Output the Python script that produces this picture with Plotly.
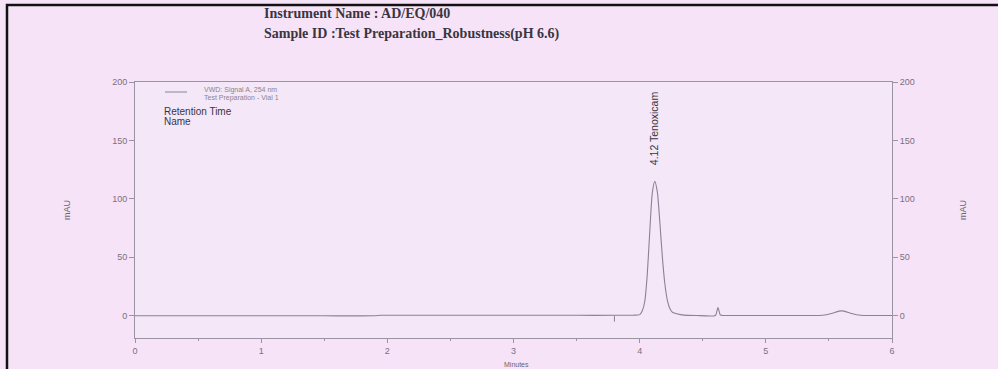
import plotly.graph_objects as go

# ---- data ----
time_min = [0.0, 0.5, 1.0, 1.5, 1.9, 1.95, 2.5, 3.0, 3.5, 3.8, 3.95, 4.00, 4.02, 4.04, 4.06, 4.08,
            4.10, 4.12, 4.14, 4.16, 4.18, 4.20, 4.22, 4.24, 4.26, 4.30, 4.35, 4.45, 4.60,
            4.62, 4.64, 4.66, 4.80, 5.00, 5.30, 5.45, 5.52, 5.58, 5.62, 5.68, 5.75, 5.85, 6.0]
signal_mau = [0.0, 0.0, 0.0, 0.0, 0.0, 0.4, 0.4, 0.4, 0.4, 0.4, 0.5, 1.0, 4, 12, 35, 72,
              105, 115, 106, 80, 50, 27, 13, 6, 3, 1.5, 0.6, 0.3, 0.3,
              7, 0.6, 0.3, 0.3, 0.3, 0.3, 0.5, 2.0, 4.0, 4.0, 2.0, 0.5, 0.3, 0.3]
marker_x = [3.8, 3.8]
marker_y = [0.0, -5.0]

peak_time = 4.12
peak_height = 115
peak_label = "4.12 Tenoxicam"

x_ticks = [0, 1, 2, 3, 4, 5, 6]
y_ticks = [0, 50, 100, 150, 200]

title_lines = ["Instrument Name : AD/EQ/040", "Sample ID :Test Preparation_Robustness(pH 6.6)"]

LINE = "#8b8198"
AXIS = "#9a93a3"
TICKF = dict(family="Liberation Sans", size=9, color="#77717e")

fig = go.Figure()
fig.add_trace(go.Scatter(x=time_min, y=signal_mau, mode="lines",
                         line=dict(color=LINE, width=1.1, shape="spline", smoothing=0.6),
                         showlegend=False, hoverinfo="skip"))
fig.add_trace(go.Scatter(x=marker_x, y=marker_y, mode="lines",
                         line=dict(color=LINE, width=1), showlegend=False, hoverinfo="skip"))
# right-hand axis companion trace (invisible)
fig.add_trace(go.Scatter(x=time_min, y=signal_mau, mode="lines", yaxis="y2",
                         line=dict(color="rgba(0,0,0,0)", width=0), showlegend=False, hoverinfo="skip"))

fig.update_layout(
    width=998, height=369,
    margin=dict(l=135, r=106, t=82, b=31),
    paper_bgcolor="#f7e3f8",
    plot_bgcolor="#f4e7f8",
    xaxis=dict(range=[0, 6], tickvals=x_ticks, showgrid=False, zeroline=False,
               showline=True, linecolor=AXIS, linewidth=1, mirror=True,
               ticks="outside", ticklen=4, tickcolor=AXIS, tickfont=TICKF,
               minor=dict(dtick=0.5, ticks="outside", ticklen=2, tickcolor=AXIS)),
    yaxis=dict(range=[-19, 200], tickvals=y_ticks, showgrid=False, zeroline=False,
               showline=True, linecolor=AXIS, linewidth=1,
               ticks="outside", ticklen=5, tickcolor=AXIS, tickfont=TICKF,
               title=dict(text="mAU", font=dict(family="Liberation Sans", size=9, color="#6a6470"),
                          standoff=40)),
    yaxis2=dict(range=[-19, 200], tickvals=y_ticks, overlaying="y", side="right",
                showgrid=False, zeroline=False, showline=True, linecolor=AXIS, linewidth=1,
                ticks="outside", ticklen=5, tickcolor=AXIS, tickfont=TICKF,
                title=dict(text="mAU", font=dict(family="Liberation Sans", size=9, color="#6a6470"),
                           standoff=45)),
)

# titles
fig.add_annotation(xref="paper", yref="paper", x=(262 - 135) / 757, y=1 + (82 - 13) / 256,
                   xanchor="left", yanchor="middle", showarrow=False, align="left",
                   text="<b>" + title_lines[0] + "</b>",
                   font=dict(family="Liberation Serif", size=14, color="#3a3540"))
fig.add_annotation(xref="paper", yref="paper", x=(262 - 135) / 757, y=1 + (82 - 34) / 256,
                   xanchor="left", yanchor="middle", showarrow=False, align="left",
                   text="<b>" + title_lines[1] + "</b>",
                   font=dict(family="Liberation Serif", size=14, color="#3a3540"))

# legend-like block
fig.add_shape(type="line", xref="paper", yref="paper",
              x0=(165 - 135) / 757, x1=(187 - 135) / 757, y0=1 - (92 - 82) / 256, y1=1 - (92 - 82) / 256,
              line=dict(color=LINE, width=1))
fig.add_annotation(xref="paper", yref="paper", x=(202 - 135) / 757, y=1 - (90 - 82) / 256,
                   xanchor="left", yanchor="middle", showarrow=False,
                   text="VWD: Signal A, 254 nm", font=dict(family="Liberation Sans", size=7, color="#8a8490"))
fig.add_annotation(xref="paper", yref="paper", x=(202 - 135) / 757, y=1 - (98 - 82) / 256,
                   xanchor="left", yanchor="middle", showarrow=False,
                   text="Test Preparation - Vial 1", font=dict(family="Liberation Sans", size=7, color="#8a8490"))
fig.add_annotation(xref="paper", yref="paper", x=(162 - 135) / 757, y=1 - (111 - 82) / 256,
                   xanchor="left", yanchor="middle", showarrow=False,
                   text="Retention Time", font=dict(family="Liberation Sans", size=10, color="#3a3540"))
fig.add_annotation(xref="paper", yref="paper", x=(162 - 135) / 757, y=1 - (121 - 82) / 256,
                   xanchor="left", yanchor="middle", showarrow=False,
                   text="Name", font=dict(family="Liberation Sans", size=10, color="#3a3540"))

# peak label
fig.add_annotation(x=peak_time, y=peak_height, xref="x", yref="y", yshift=14,
                   xanchor="center", yanchor="bottom", textangle=-90, showarrow=False,
                   text=peak_label, font=dict(family="Liberation Sans", size=10.5, color="#3a3540"))

# x axis title
fig.add_annotation(xref="paper", yref="paper", x=(516 - 135) / 757, y=-(364 - 338) / 256,
                   xanchor="center", yanchor="middle", showarrow=False,
                   text="Minutes", font=dict(family="Liberation Sans", size=7, color="#6a6470"))

# black border of the scanned page
fig.add_shape(type="rect", xref="paper", yref="paper",
              x0=-(135 - 7) / 757, x1=1 + 200 / 757, y0=-(369 - 338 + 20) / 256, y1=1 + (82 - 5) / 256,
              line=dict(color="#111111", width=2.5), layer="above")

fig.write_html("out.html")
